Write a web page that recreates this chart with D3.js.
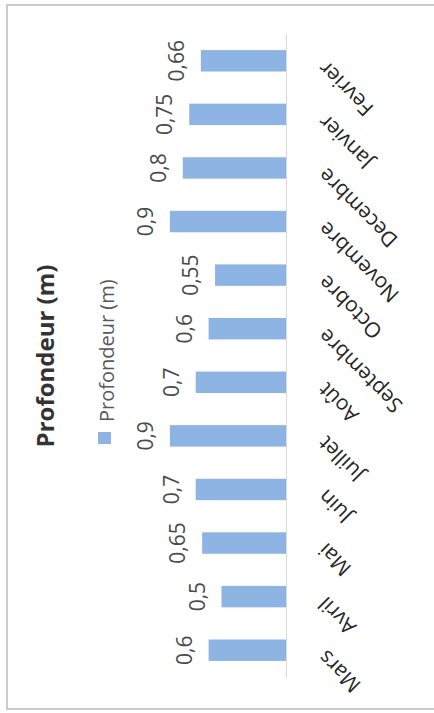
<!DOCTYPE html>
<html>
<head>
<meta charset="utf-8">
<script src="https://cdn.jsdelivr.net/npm/d3@7"></script>
<style>
  body { margin: 0; background: #fff; }
  svg { display: block; font-family: "Open Sans", sans-serif; }
</style>
</head>
<body>
<div id="chart"></div>
<script>
const months = ['Mars', 'Avril', 'Mai', 'Juin', 'Juillet', 'Août', 'Septembre',
                'Octobre', 'Novembre', 'Decembre', 'Janvier', 'Fevrier'];
const depths = [0.6, 0.5, 0.65, 0.7, 0.9, 0.7, 0.6, 0.55, 0.9, 0.8, 0.75, 0.66];
const valueLabels = ['0,6', '0,5', '0,65', '0,7', '0,9', '0,7', '0,6', '0,55', '0,9', '0,8', '0,75', '0,66'];
const seriesName = 'Profondeur (m)';

const width = 434, height = 713;
const baseX = 286;

const data = months.map((m, i) => ({ month: m, value: depths[i], label: valueLabels[i] }));

const svg = d3.select('#chart').append('svg')
    .attr('width', width)
    .attr('height', height);

// outer frame of the chart area
svg.append('path')
    .attr('d', `M${width + 2},5 H7 V709 H${width + 2}`)
    .attr('fill', 'none')
    .attr('stroke', '#cccccc')
    .attr('stroke-width', 2);

// category axis runs bottom -> top, values grow to the left
const y = d3.scaleBand()
    .domain(months)
    .range([677, 34])
    .paddingInner(0.6)
    .paddingOuter(0.3);

const x = d3.scaleLinear()
    .domain([0, 1])
    .range([baseX, 157]);

// bars
svg.selectAll('.bar')
    .data(data)
    .join('rect')
    .attr('class', 'bar')
    .attr('x', d => x(d.value))
    .attr('y', d => y(d.month))
    .attr('width', d => x(0) - x(d.value))
    .attr('height', y.bandwidth())
    .attr('fill', '#8db4e2');

// category axis
const yAxis = d3.axisRight(y).tickSize(0).tickPadding(0);
const axisG = svg.append('g')
    .attr('transform', `translate(${baseX},0)`)
    .call(yAxis);
axisG.select('.domain').attr('stroke', '#d9d9d9').attr('stroke-width', 1);
axisG.selectAll('.tick text')
    .attr('x', null)
    .attr('text-anchor', 'end')
    .attr('transform', 'translate(36,4) rotate(-135)')
    .attr('dy', '0.35em')
    .style('font-size', '21px')
    .style('font-family', '"Open Sans", sans-serif')
    .attr('fill', '#262626');

// value labels
svg.selectAll('.value-label')
    .data(data)
    .join('text')
    .attr('class', 'value-label')
    .attr('transform', d => `translate(${x(d.value) - 17},${y(d.month) + y.bandwidth() / 2}) rotate(-90)`)
    .attr('text-anchor', 'middle')
    .style('font-size', '21px')
    .attr('fill', '#4a4a4a')
    .text(d => d.label);

// title
svg.append('text')
    .attr('transform', 'translate(54,356) rotate(-90)')
    .attr('text-anchor', 'middle')
    .style('font-size', '24px')
    .style('font-weight', 'bold')
    .attr('fill', '#333333')
    .text(seriesName);

// legend
svg.append('rect')
    .attr('x', 98)
    .attr('y', 432)
    .attr('width', 13)
    .attr('height', 12)
    .attr('fill', '#8db4e2');

svg.append('text')
    .attr('transform', 'translate(114,422) rotate(-90)')
    .attr('text-anchor', 'start')
    .style('font-size', '20px')
    .attr('fill', '#595959')
    .text(seriesName);
</script>
</body>
</html>
